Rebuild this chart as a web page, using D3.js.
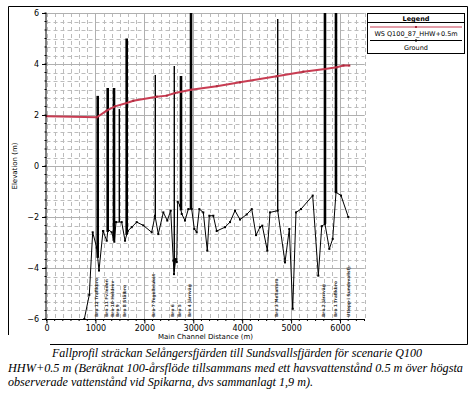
<!DOCTYPE html>
<html>
<head>
<meta charset="utf-8">
<script src="https://cdn.jsdelivr.net/npm/d3@7"></script>
<style>
    body { margin: 0; background: #fff; }
    svg { display: block; }
    text { font-family: "DejaVu Sans", sans-serif; }
</style>
</head>
<body>
<svg id="chart" width="473" height="395"></svg>
<script>
// data
var groundDist = [773, 875, 944, 1026, 1073, 1155, 1231, 1257, 1333, 1386, 1421, 1537, 1605, 1660, 1742, 1844, 1979, 2150, 2218, 2285, 2388, 2469, 2539, 2592, 2606, 2641, 2662, 2682, 2729, 2764, 2831, 2899, 2968, 3021, 3070, 3124, 3205, 3287, 3328, 3410, 3479, 3649, 3751, 3853, 3955, 4092, 4195, 4283, 4364, 4411, 4514, 4569, 4726, 4875, 4963, 5033, 5100, 5202, 5441, 5556, 5626, 5692, 5781, 5850, 5918, 6020, 6169];
var groundElev = [-6.0, -5.05, -2.6, -3.2, -4.1, -2.55, -2.93, -2.48, -2.6, -2.97, -2.2, -2.2, -2.93, -2.55, -2.4, -2.2, -2.33, -2.6, -1.95, -2.67, -1.82, -2.14, -1.75, -3.71, -4.24, -3.65, -3.77, -1.4, -1.55, -1.88, -2.14, -1.69, -1.69, -2.47, -2.6, -1.69, -1.82, -3.32, -1.95, -1.95, -2.55, -2.4, -2.2, -1.75, -2.1, -1.9, -1.69, -2.71, -2.4, -2.34, -3.32, -1.82, -1.75, -3.78, -2.47, -5.6, -1.82, -1.69, -1.16, -4.3, -2.36, -2.27, -3.25, -2.86, -1.03, -1.16, -2.0];

var wsDist = [0, 1030, 1230, 1400, 1640, 1775, 2253, 2457, 2627, 2954, 3480, 3955, 4705, 5250, 5692, 5932, 6070, 6190];
var wsElev = [1.95, 1.91, 2.17, 2.34, 2.47, 2.56, 2.72, 2.76, 2.86, 2.99, 3.13, 3.28, 3.52, 3.70, 3.80, 3.87, 3.94, 3.94];

// bridges: station, top elevation, heavy or light stroke
var bridgeDist = [1047, 1251, 1380, 1488, 1639, 2224, 2612, 2749, 2954, 4726, 5692, 5917];
var bridgeTop = [2.75, 3.06, 3.06, 2.24, 5.0, 3.57, 3.92, 3.53, 6.0, 5.76, 6.0, 6.0];
var bridgeHeavy = [1, 1, 1, 0, 1, 0, 0, 1, 1, 0, 1, 1];

// station labels along the bottom
var labelDist = [1010, 1215, 1340, 1445, 1590, 2180, 2560, 2705, 2915, 4690, 5660, 5890, 6160];
var labelText = ["Bro 12 Trafikbro", "Bro 11 Fv.leden", "Bro 10 Heldrev", "Bro 9", "Bro 8 Stålbro", "Bro 7 Tegelbruket", "Bro 6", "Bro 5", "Bro 4 Järnväg", "Bro 3 Mellanbro", "Bro 2 Järnväg", "Bro 1 Trafikbro", "Utlopp i Sundsvallsfj."];

var xTicks = [0, 1000, 2000, 3000, 4000, 5000, 6000];
var yTicks = [-6, -4, -2, 0, 2, 4, 6];

var captionLines = [
    "Fallprofil sträckan Selångersfjärden till Sundsvallsfjärden för scenarie Q100",
    "HHW+0.5 m (Beräknat 100-årsflöde tillsammans med ett havsvattenstånd 0.5 m över högsta",
    "observerade vattenstånd vid Spikarna, dvs sammanlagt 1,9 m)."
];

drawChart();

function drawChart() {
    const svg = d3.select("#chart");

    const x = d3.scaleLinear().domain([0, 6500]).range([46.5, 364.5]);
    const y = d3.scaleLinear().domain([-6, 6]).range([319, 13]);

    // outer frame (bottom left corner is hidden by the caption)
    svg.append("path")
        .attr("d", "M50,344.5 H467.5 V6.5 H8.5 V335")
        .attr("fill", "none")
        .attr("stroke", "#000")
        .attr("stroke-width", 1);

    // minor grid, dashed
    const xMinor = d3.range(0, 6501, 1000 / 6);
    const yMinor = d3.range(-6, 6.001, 1 / 3);
    const grid = svg.append("g");
    grid.selectAll(".vminor").data(xMinor).enter().append("line")
        .attr("x1", d => Math.round(x(d)) + 0.5).attr("x2", d => Math.round(x(d)) + 0.5)
        .attr("y1", y(6)).attr("y2", y(-6))
        .attr("stroke", "#bcbcbc").attr("stroke-dasharray", "4,3");
    grid.selectAll(".hminor").data(yMinor).enter().append("line")
        .attr("x1", x(0)).attr("x2", x(6500))
        .attr("y1", d => Math.round(y(d)) + 0.5).attr("y2", d => Math.round(y(d)) + 0.5)
        .attr("stroke", "#bcbcbc").attr("stroke-dasharray", "4,3");
    // major grid, solid
    grid.selectAll(".vmajor").data(xTicks.slice(1)).enter().append("line")
        .attr("x1", d => Math.round(x(d)) + 0.5).attr("x2", d => Math.round(x(d)) + 0.5)
        .attr("y1", y(6)).attr("y2", y(-6))
        .attr("stroke", "#b0b0b0");
    grid.selectAll(".hmajor").data(yTicks.slice(1)).enter().append("line")
        .attr("x1", x(0)).attr("x2", x(6500))
        .attr("y1", d => Math.round(y(d)) + 0.5).attr("y2", d => Math.round(y(d)) + 0.5)
        .attr("stroke", "#b0b0b0");

    // station labels, rotated
    svg.selectAll(".blabel").data(labelDist).enter().append("text")
        .attr("transform", (d, i) => `translate(${x(d) + 2},317) rotate(-90)`)
        .attr("font-size", 4.3)
        .attr("font-weight", "bold")
        .attr("fill", "#333")
        .text((d, i) => labelText[i]);

    // ground profile
    const ground = groundDist.map((d, i) => ({ d: d, e: groundElev[i] }));
    const line = d3.line().x(p => x(p.d)).y(p => y(p.e));
    svg.append("path")
        .datum(ground)
        .attr("d", line)
        .attr("fill", "none")
        .attr("stroke", "#000")
        .attr("stroke-width", 1);
    svg.selectAll(".gpt").data(ground).enter().append("rect")
        .attr("x", p => x(p.d) - 1).attr("y", p => y(p.e) - 1)
        .attr("width", 2).attr("height", 2)
        .attr("fill", "#000");

    // bridges, drawn from the ground up
    const groundAt = d3.scaleLinear().domain(groundDist).range(groundElev);
    svg.selectAll(".bridge").data(bridgeDist).enter().append("line")
        .attr("x1", d => x(d)).attr("x2", d => x(d))
        .attr("y1", d => y(groundAt(d)))
        .attr("y2", (d, i) => y(bridgeTop[i]))
        .attr("stroke", "#000")
        .attr("stroke-width", (d, i) => bridgeHeavy[i] ? 2.6 : 1.4);

    // water surface
    const ws = wsDist.map((d, i) => ({ d: d, e: wsElev[i] }));
    svg.append("path")
        .datum(ws)
        .attr("d", line)
        .attr("fill", "none")
        .attr("stroke", "#c83c52")
        .attr("stroke-width", 2);
    svg.selectAll(".wpt").data(ws).enter().append("rect")
        .attr("x", p => x(p.d) - 1).attr("y", p => y(p.e) - 1)
        .attr("width", 2).attr("height", 2)
        .attr("fill", "#a82a3c");

    // axes
    const xAxis = d3.axisBottom(x).tickValues(xTicks).tickSize(4).tickFormat(d3.format("d"));
    const gx = svg.append("g").attr("transform", `translate(0,${y(-6) + 0.5})`).call(xAxis);
    gx.select(".domain").attr("d", `M${x(0)},0H${x(6500)}`).attr("stroke", "#000");
    gx.selectAll("text").attr("font-size", 8).attr("fill", "#000").attr("dy", "0.6em");

    const yAxis = d3.axisLeft(y).tickValues(yTicks).tickSize(4);
    const gy = svg.append("g").attr("transform", `translate(${x(0) - 0.5},0)`).call(yAxis);
    gy.select(".domain").attr("d", `M0,${y(6)}V${y(-6)}`).attr("stroke", "#000");
    gy.selectAll("text").attr("font-size", 8).attr("fill", "#000");

    // minor ticks
    svg.append("g").selectAll("line").data(xMinor).enter().append("line")
        .attr("x1", d => x(d)).attr("x2", d => x(d))
        .attr("y1", y(-6)).attr("y2", y(-6) + 2).attr("stroke", "#000");
    svg.append("g").selectAll("line").data(yMinor).enter().append("line")
        .attr("x1", x(0) - 2).attr("x2", x(0))
        .attr("y1", d => y(d)).attr("y2", d => y(d)).attr("stroke", "#000");

    // axis titles
    svg.append("text")
        .attr("x", (x(0) + x(6500)) / 2).attr("y", 339)
        .attr("text-anchor", "middle").attr("font-size", 7)
        .text("Main Channel Distance (m)");
    svg.append("text")
        .attr("transform", `translate(17,${(y(6) + y(-6)) / 2}) rotate(-90)`)
        .attr("text-anchor", "middle").attr("font-size", 7)
        .text("Elevation (m)");

    // legend
    const lg = svg.append("g");
    lg.append("rect").attr("x", 367.5).attr("y", 13.5).attr("width", 97).attr("height", 40)
        .attr("fill", "#fff").attr("stroke", "#000");
    lg.append("line").attr("x1", 367.5).attr("x2", 464.5).attr("y1", 22.5).attr("y2", 22.5).attr("stroke", "#000");
    lg.append("text").attr("x", 416).attr("y", 20.5).attr("text-anchor", "middle")
        .attr("font-size", 6.5).attr("font-weight", "bold").text("Legend");
    lg.append("line").attr("x1", 370).attr("x2", 462).attr("y1", 27).attr("y2", 27)
        .attr("stroke", "#c83c52").attr("stroke-width", 1);
    lg.append("rect").attr("x", 415).attr("y", 26).attr("width", 2).attr("height", 2).attr("fill", "#a82a3c");
    lg.append("text").attr("x", 416).attr("y", 35.5).attr("text-anchor", "middle")
        .attr("font-size", 6.5).text("WS  Q100_87_HHW+0.5m");
    lg.append("line").attr("x1", 370).attr("x2", 462).attr("y1", 40.5).attr("y2", 40.5)
        .attr("stroke", "#000");
    lg.append("rect").attr("x", 415).attr("y", 39.5).attr("width", 2).attr("height", 2).attr("fill", "#000");
    lg.append("text").attr("x", 416).attr("y", 49.5).attr("text-anchor", "middle")
        .attr("font-size", 6.5).text("Ground");

    // caption, stretched to the widths in the original
    const capX = [52, 8, 8];
    const capY = [357, 371.5, 385.5];
    const capW = [370, 455, 305];
    svg.selectAll(".cap").data(captionLines).enter().append("text")
        .attr("x", (d, i) => capX[i]).attr("y", (d, i) => capY[i])
        .style("font-family", "'Liberation Serif', 'Times New Roman', serif")
        .attr("font-style", "italic")
        .attr("font-size", 12.3)
        .attr("textLength", (d, i) => capW[i])
        .attr("lengthAdjust", "spacingAndGlyphs")
        .text(d => d);
}
</script>
</body>
</html>
